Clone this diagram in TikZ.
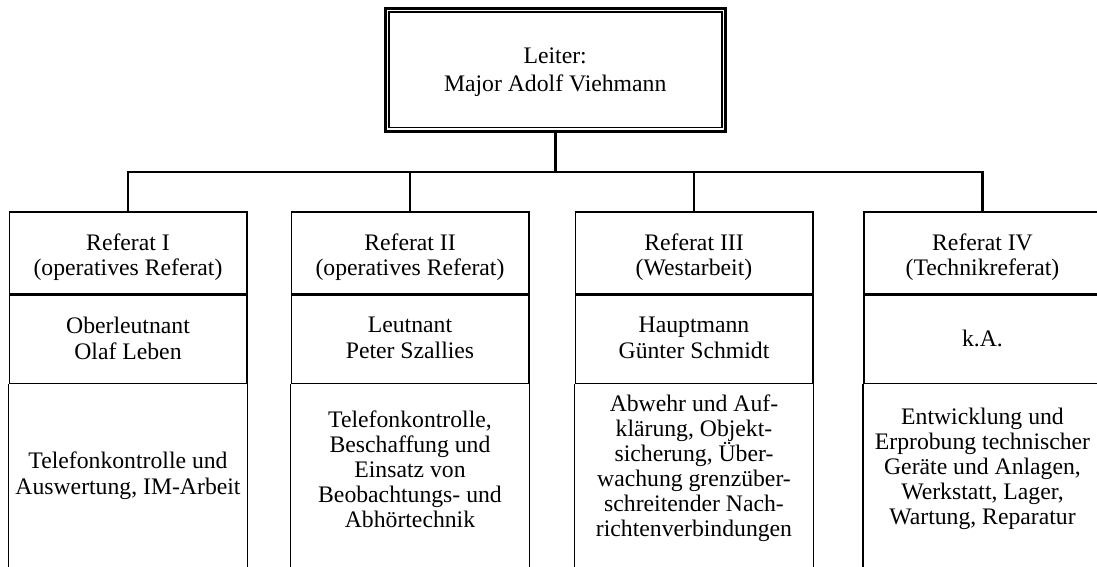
\documentclass[tikz,border=0pt]{standalone}
\usepackage{fontspec}
\setmainfont{Liberation Serif}
\begin{document}
\begin{tikzpicture}[x=1pt,y=-1pt,
  txt/.style={font={\fontsize{23.7pt}{25pt}\selectfont}, align=center, inner sep=0pt},
  cell/.style={draw, line width=1.5pt, minimum width=237.5pt, inner sep=0pt},
  headbox/.style={cell, minimum height=82pt},
  namebox/.style={cell, minimum height=88pt},
  chief/.style={draw, line width=3pt, minimum width=340pt, minimum height=122.3pt, inner sep=0pt},
  link/.style={line width=2.6pt}
]
\useasboundingbox (0,0) rectangle (1097,566);

% head of the department, framed by a double border
\node[chief] (leiter) at (555.2,69.9) {};
\draw[line width=1.8pt] ([shift={(5,5)}]leiter.north west) rectangle ([shift={(-5,-5)}]leiter.south east);
\node[txt] (leitertext) at (555.2,72) {Leiter:\\[3pt]Major Adolf Viehmann};

% the four sections: title row and chief row
\node[headbox] (h1) at (128,253) {};
\node[headbox] (h2) at (410,253) {};
\node[headbox] (h3) at (694,253) {};
\node[headbox] (h4) at (982.5,253) {};
\foreach \i in {1,2,3,4} {
  \node[namebox, anchor=north] (n\i) at (h\i.south) {};
}

% section titles
\node[txt] (ht1) at (128,257) {Referat I\\(operatives Referat)};
\node[txt] (ht2) at (410,257) {Referat II\\(operatives Referat)};
\node[txt] (ht3) at (694,257) {Referat III\\(Westarbeit)};
\node[txt] (ht4) at (982.5,257) {Referat IV\\(Technikreferat)};

% section chiefs
\node[txt] (nt1) at (128,338) {Oberleutnant\\[1pt]Olaf Leben};
\node[txt] (nt2) at (410,338) {Leutnant\\[1pt]Peter Szallies};
\node[txt] (nt3) at (694,338) {Hauptmann\\[1pt]Günter Schmidt};
\node[txt] (nt4) at (982.5,338) {k.A.};

% tasks
\node[txt] (t1) at (128,476) {Telefonkontrolle und\\[1pt]Auswertung, IM-Arbeit};
\node[txt] (t2) at (410,469) {Telefonkontrolle,\\Beschaffung und\\Einsatz von\\Beobachtungs- und\\Abhörtechnik};
\node[txt] (t3) at (694,468) {Abwehr und Auf-\\klärung, Objekt-\\sicherung, Über-\\wachung grenzüber-\\schreitender Nach-\\richtenverbindungen};
\node[txt] (t4) at (982.5,469) {Entwicklung und\\Erprobung technischer\\Geräte und Anlagen,\\Werkstatt, Lager,\\Wartung, Reparatur};

% side walls of the task cells, running past the lower edge
\foreach \i in {1,2,3,4} {
  \draw[line width=1.5pt] (n\i.south west) -- ++(0,200);
  \draw[line width=1.5pt] (n\i.south east) -- ++(0,200);
}

% connectors from the head to the sections
\coordinate (bus) at (leiter.south |- 0,172);
\draw[link] (leiter.south) -- (bus);
\foreach \i in {1,2,3,4} {
  \draw[link] (bus) -| (h\i.north);
}
\end{tikzpicture}
\end{document}
